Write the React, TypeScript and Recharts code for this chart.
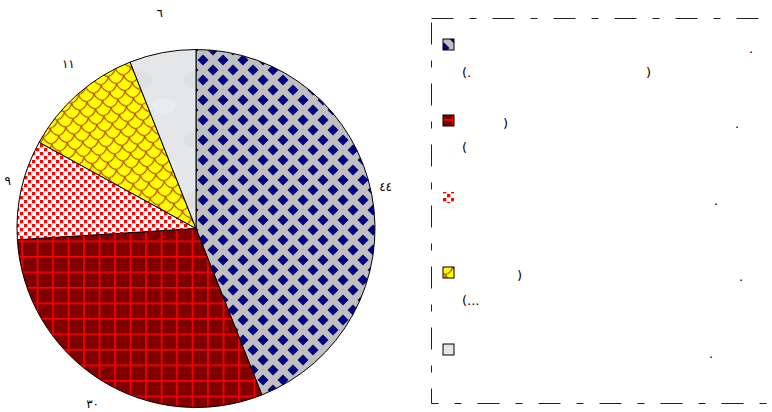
import React from 'react';
import { PieChart, Pie, Cell, Legend } from 'recharts';

// slice values, clockwise from 12 o'clock
const sliceValues = [44, 30, 9, 11, 6];
const sliceLabels = ['٤٤', '٣٠', '٩', '١١', '٦'];
const sliceFills = ['url(#pDiamond)', 'url(#pGrid)', 'url(#pDots)', 'url(#pScale)', 'url(#pMarble)'];

// legend text: only the punctuation survives in the original rendering
const legendTexts = [
  ['.', '(.', ')'],
  [')', '.', '('],
  ['.'],
  [')', '.', '(...'],
  ['.'],
];

// layout of legend rows (page coordinates)
const legendLayout = [
  { sw: 39, items: [{ x: 749, y: 53 }, { x: 462, y: 77 }, { x: 646, y: 77 }] },
  { sw: 115, items: [{ x: 503, y: 128 }, { x: 735, y: 128 }, { x: 462, y: 152 }] },
  { sw: 192, items: [{ x: 714, y: 205 }] },
  { sw: 267, items: [{ x: 517, y: 280 }, { x: 739, y: 281 }, { x: 462, y: 305 }] },
  { sw: 344, items: [{ x: 709, y: 358 }] },
];

const data = sliceValues.map((v, i) => ({ name: sliceLabels[i], value: v }));

const RAD = Math.PI / 180;

const renderLabel = (props: any) => {
  const { cx, cy, midAngle, outerRadius, index } = props;
  const dx = Math.cos(midAngle * RAD);
  const dy = -Math.sin(midAngle * RAD);
  const r = outerRadius + 14;
  const x = cx + r * dx;
  const y = Math.min(cy + r * dy + 26 * dy, 404);
  return (
    <text
      x={x}
      y={y}
      textAnchor="middle"
      dominantBaseline="central"
      fontFamily="DejaVu Sans"
      fontSize={12}
      fill="#000"
    >
      {sliceLabels[index]}
    </text>
  );
};

const LEG_LEFT = 431;
const LEG_TOP = 18;

const LegendBox = () => (
  <svg width={345} height={390} style={{ display: 'block', overflow: 'visible' }}>
    <rect
      x={0.5}
      y={0.5}
      width={360}
      height={385}
      fill="none"
      stroke="#222"
      strokeWidth={1}
      strokeDasharray="22 16 7 16"
    />
    {legendLayout.map((row, i) => (
      <g key={i}>
        <rect
          x={443 - LEG_LEFT}
          y={row.sw - LEG_TOP}
          width={11}
          height={11}
          fill={sliceFills[i]}
          stroke={i === 2 ? 'none' : '#000'}
          strokeWidth={1}
        />
        {legendTexts[i].map((t, j) => (
          <text
            key={j}
            x={row.items[j].x - LEG_LEFT}
            y={row.items[j].y - LEG_TOP}
            fontFamily="DejaVu Sans"
            fontSize={13}
            fill="#000"
          >
            {t}
          </text>
        ))}
      </g>
    ))}
  </svg>
);

export default function App() {
  return (
    <div style={{ width: 772, height: 412, background: '#fff', overflow: 'hidden' }}>
      <style>{'body{margin:0}'}</style>
      <PieChart width={772} height={412} margin={{ top: 0, right: 0, bottom: 0, left: 0 }}>
        <defs>
          <pattern id="pDiamond" patternUnits="userSpaceOnUse" width={20} height={20} x={3} y={0}>
            <rect width={20} height={20} fill="#C0C0C0" />
            <path d="M0 -5.5 L5.5 0 L0 5.5 L-5.5 0 Z" fill="#000080" />
            <path d="M20 -5.5 L25.5 0 L20 5.5 L14.5 0 Z" fill="#000080" />
            <path d="M0 14.5 L5.5 20 L0 25.5 L-5.5 20 Z" fill="#000080" />
            <path d="M20 14.5 L25.5 20 L20 25.5 L14.5 20 Z" fill="#000080" />
            <path d="M10 4.5 L15.5 10 L10 15.5 L4.5 10 Z" fill="#000080" />
          </pattern>
          <pattern id="pGrid" patternUnits="userSpaceOnUse" width={15.5} height={15.5} x={5.7} y={8}>
            <rect width={15.5} height={15.5} fill="#800000" />
            <rect x={0} y={0} width={1.6} height={15.5} fill="#FF0000" />
            <rect x={0} y={0} width={15.5} height={1.6} fill="#FF0000" />
          </pattern>
          <pattern id="pDots" patternUnits="userSpaceOnUse" width={8} height={8}>
            <rect width={8} height={8} fill="#FFFFFF" />
            <rect x={0} y={0} width={3.3} height={3.3} fill="#FF0000" />
            <rect x={4} y={4} width={3.3} height={3.3} fill="#FF0000" />
          </pattern>
          <pattern
            id="pScale"
            patternUnits="userSpaceOnUse"
            width={11}
            height={11}
            patternTransform="rotate(40)"
          >
            <rect width={11} height={11} fill="#FFFF00" />
            <path d="M0 0 Q5.5 3.5 11 0" fill="none" stroke="#B03A00" strokeWidth={1.1} />
            <path d="M0 0 Q3.5 5.5 0 11" fill="none" stroke="#B03A00" strokeWidth={1.1} />
            <path d="M11 0 Q14.5 5.5 11 11" fill="none" stroke="#B03A00" strokeWidth={1.1} />
          </pattern>
          <pattern id="pMarble" patternUnits="userSpaceOnUse" width={60} height={60}>
            <rect width={60} height={60} fill="#E4E6E8" />
            <ellipse cx={18} cy={20} rx={14} ry={9} fill="#DEE0E2" />
            <ellipse cx={44} cy={46} rx={12} ry={8} fill="#EAEBED" />
          </pattern>
        </defs>
        <Pie
          data={data}
          dataKey="value"
          cx={196}
          cy={228.5}
          outerRadius={179}
          startAngle={90}
          endAngle={-270}
          stroke="#000"
          strokeWidth={1}
          label={renderLabel}
          labelLine={false}
          isAnimationActive={false}
        >
          {data.map((d, i) => (
            <Cell key={d.name} fill={sliceFills[i]} />
          ))}
        </Pie>
        <Legend
          content={() => <LegendBox />}
          wrapperStyle={{ position: 'absolute', left: LEG_LEFT, top: LEG_TOP, width: 345, height: 390 }}
        />
      </PieChart>
    </div>
  );
}
